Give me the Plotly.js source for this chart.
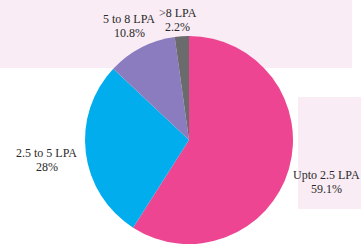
<!DOCTYPE html>
<html>
<head>
<meta charset="utf-8">
<script src="https://cdn.plot.ly/plotly-3.0.1.min.js"></script>
<style>
html,body{margin:0;padding:0;background:#fff;overflow:hidden;}
#chart{width:361px;height:245px;}
</style>
</head>
<body>
<div id="chart"></div>
<script>
const categories = ["Upto 2.5 LPA", "2.5 to 5 LPA", "5 to 8 LPA", ">8 LPA"];
const shares = [59.1, 28, 10.8, 2.2];
const shareLabels = ["59.1%", "28%", "10.8%", "2.2%"];
const sliceColors = ["#ee4592", "#01adec", "#8a7cbf", "#6b6b6e"];

// label anchor positions (paper coords), one per category
const labelPos = [
  {x: 0.899, y: 0.296},
  {x: 0.087, y: 0.404},
  {x: 0.326, y: 1.050},
  {x: 0.468, y: 1.077}
];

const trace = {
  type: "pie",
  labels: categories,
  values: shares,
  sort: false,
  direction: "clockwise",
  rotation: 0,
  marker: {colors: sliceColors, line: {width: 0}},
  textinfo: "none",
  hoverinfo: "none",
  automargin: false,
  showlegend: false
};

const font = {family: "Liberation Serif, serif", size: 12, color: "#2a2a2a"};
const annotations = [];
categories.forEach((c, i) => {
  annotations.push({xref: "paper", yref: "paper", x: labelPos[i].x, y: labelPos[i].y,
    text: c, showarrow: false, font: font, xanchor: "center", yanchor: "middle", yshift: 7});
  annotations.push({xref: "paper", yref: "paper", x: labelPos[i].x, y: labelPos[i].y,
    text: shareLabels[i], showarrow: false, font: font, xanchor: "center", yanchor: "middle", yshift: -7});
});

const bg = "#f9ecf4";
const layout = {
  width: 361, height: 245,
  margin: {l: 17, r: 0, t: 36, b: 1},
  paper_bgcolor: "#ffffff",
  plot_bgcolor: "#ffffff",
  showlegend: false,
  annotations: annotations,
  shapes: [
    {type: "rect", xref: "paper", yref: "paper", layer: "below",
     x0: -0.06, x1: 0.974, y0: 0.846, y1: 1.2, fillcolor: bg, line: {width: 0}},
    {type: "rect", xref: "paper", yref: "paper", layer: "below",
     x0: 0.817, x1: 1.05, y0: 0.168, y1: 0.707, fillcolor: bg, line: {width: 0}}
  ]
};

Plotly.newPlot("chart", [trace], layout, {staticPlot: true, displayModeBar: false});
</script>
</body>
</html>
